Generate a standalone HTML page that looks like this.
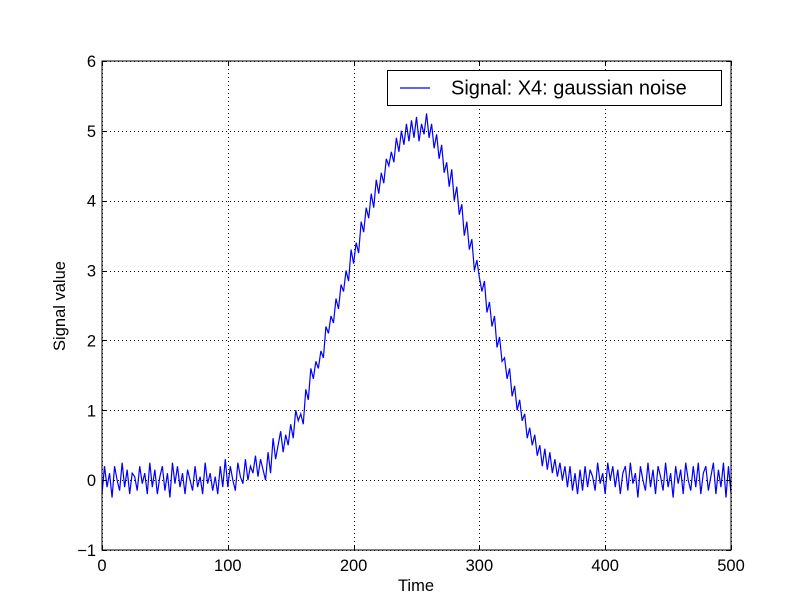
<!DOCTYPE html>
<html><head><meta charset="utf-8"><style>
body{margin:0;background:#fff}
svg{display:block;font-family:"Liberation Sans",sans-serif}
</style></head><body>
<svg id="chart" width="812" height="612">
<rect width="812" height="612" fill="#fff"/>
<g id="grid"></g>
<path id="line" fill="none" stroke="#0000ff" stroke-width="1.2"/>
<rect x="102" y="61" width="629" height="489" fill="none" stroke="#000" stroke-width="1"/>
<g id="ticks"></g>
<text x="416" y="591" font-size="16.5" text-anchor="middle">Time</text>
<text x="65" y="306" font-size="16.5" text-anchor="middle" transform="rotate(-90 65 306)">Signal value</text>
<g>
<rect x="387.5" y="70.5" width="334" height="35" fill="#fff" stroke="#000"/>
<line x1="400" y1="88" x2="430" y2="88" stroke="#0000ff" stroke-width="1.2"/>
<text x="451" y="94.5" font-size="20">Signal: X4: gaussian noise</text>
</g>
</svg>
<script>
const xTicks=[0,100,200,300,400,500];
const yTicks=[-1,0,1,2,3,4,5,6];
const yTickLabels=["\u22121","0","1","2","3","4","5","6"];
const timeStep=2;
const signal=[
-0.2,0.2,-0.1,0.1,-0.25,0.2,0.0,-0.15,0.25,-0.1,
0.15,-0.2,0.1,0.05,-0.15,0.2,-0.05,0.1,-0.2,0.25,
-0.1,0.15,-0.2,0.05,0.2,-0.15,0.1,-0.25,0.25,-0.05,
0.2,-0.1,0.1,-0.2,0.15,0.0,-0.15,0.2,-0.1,0.05,
-0.2,0.25,-0.05,0.1,-0.15,0.05,-0.2,0.2,-0.1,0.3,
-0.1,0.2,0.0,-0.15,0.25,0.05,-0.05,0.3,0.0,0.2,
0.1,0.35,0.05,0.3,0.15,0.0,0.4,0.1,0.6,0.3,
0.5,0.7,0.4,0.65,0.5,0.8,0.6,1.0,0.85,0.95,
0.8,1.3,1.15,1.6,1.45,1.7,1.6,1.85,1.75,2.2,
2.1,2.35,2.25,2.6,2.45,2.8,2.7,3.0,2.85,3.3,
3.1,3.4,3.25,3.7,3.55,3.9,3.75,4.1,3.9,4.3,
4.1,4.4,4.25,4.6,4.5,4.7,4.55,4.9,4.7,5.0,
4.8,5.1,4.85,5.15,4.9,5.2,4.85,5.1,4.95,5.25,
4.9,5.1,4.75,4.95,4.6,4.8,4.4,4.55,4.2,4.45,
4.0,4.2,3.8,3.95,3.5,3.7,3.3,3.45,3.0,3.15,
2.9,2.7,2.85,2.4,2.55,2.2,2.35,1.9,2.05,1.7,
1.75,1.45,1.6,1.2,1.35,1.0,1.15,0.85,0.95,0.6,
0.75,0.5,0.65,0.35,0.5,0.2,0.45,0.15,0.4,0.1,
0.3,0.05,0.25,0.0,0.2,-0.1,0.2,-0.15,0.1,-0.2,
0.15,-0.15,0.2,-0.1,0.15,0.05,-0.15,0.25,-0.05,0.1,
-0.2,0.25,0.0,0.2,-0.1,0.15,-0.2,0.1,0.2,-0.15,
0.25,-0.05,0.1,-0.25,0.2,0.0,-0.15,0.25,-0.1,0.15,
-0.2,0.2,0.05,-0.15,0.25,-0.1,0.1,-0.25,0.2,-0.05,
0.15,-0.2,0.25,0.0,-0.15,0.2,-0.1,0.25,-0.2,0.1,
0.2,-0.15,0.05,0.25,-0.2,0.15,-0.1,0.25,-0.25,0.2,
-0.2];
const X0=102,X1=731,Y0=550,Y1=61;
const xs=v=>X0+(v-0)/(500-0)*(X1-X0);
const ys=v=>Y0-(v+1)/(6+1)*(Y0-Y1);
const NS="http://www.w3.org/2000/svg";
const grid=document.getElementById('grid'),ticks=document.getElementById('ticks');
function mk(tag,attrs,parent){const e=document.createElementNS(NS,tag);for(const k in attrs)e.setAttribute(k,attrs[k]);parent.appendChild(e);return e;}
xTicks.forEach((t,i)=>{
  const x=Math.round(xs(t))+0.5;
  const g=mk('line',{x1:x,x2:x,y1:Y1,y2:Y0,stroke:'#000','stroke-dasharray':'1,3','stroke-width':1},grid);
  
  
  mk('line',{x1:x,x2:x,y1:Y0,y2:Y0-5,stroke:'#000'},ticks);
  mk('line',{x1:x,x2:x,y1:Y1,y2:Y1+5,stroke:'#000'},ticks);
  const l=mk('text',{x:xs(t),y:571,'font-size':16.5,'text-anchor':'middle'},ticks);
  l.textContent=String(t);
  
  
});
yTicks.forEach((t,i)=>{
  const y=Math.round(ys(t))+0.5;
  const g=mk('line',{x1:X0,x2:X1,y1:y,y2:y,stroke:'#000','stroke-dasharray':'1,3','stroke-width':1},grid);
  
  
  mk('line',{x1:X0,x2:X0+5,y1:y,y2:y,stroke:'#000'},ticks);
  mk('line',{x1:X1,x2:X1-5,y1:y,y2:y,stroke:'#000'},ticks);
  const l=mk('text',{x:96,y:ys(t)+6,'font-size':16.5,'text-anchor':'end'},ticks);
  l.textContent=yTickLabels[i];
  
  
});
document.getElementById('line').setAttribute('d',signal.map((v,i)=>(i?'L':'M')+xs(i*timeStep).toFixed(2)+','+ys(v).toFixed(2)).join(''));
</script>
</body></html>
